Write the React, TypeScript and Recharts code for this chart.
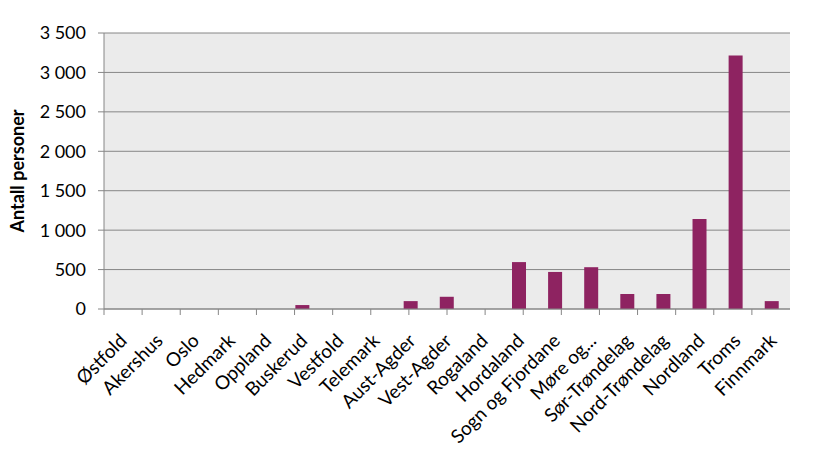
import React from 'react';
import { BarChart, Bar, XAxis, YAxis, CartesianGrid } from 'recharts';

// Fylker, in the order they appear on the x axis
const regions = [
  'Østfold', 'Akershus', 'Oslo', 'Hedmark', 'Oppland', 'Buskerud', 'Vestfold',
  'Telemark', 'Aust-Agder', 'Vest-Agder', 'Rogaland', 'Hordaland',
  'Sogn og Fjordane', 'Møre og...', 'Sør-Trøndelag', 'Nord-Trøndelag',
  'Nordland', 'Troms', 'Finnmark',
];

const persons = [0, 0, 0, 0, 0, 50, 0, 0, 100, 155, 0, 595, 470, 530, 190, 190, 1140, 3215, 100];

const yTicks = [0, 500, 1000, 1500, 2000, 2500, 3000, 3500];

const data = regions.map((name, i) => ({ name, value: persons[i] }));
// category boundaries for the tick marks between bars
const edgeTicks = [...regions.map((_, i) => i), regions.length];

const FONT = 'Lato, "Open Sans", sans-serif';
const AXIS = '#868686';

const fmt = (v: number) => (v >= 1000 ? `${Math.floor(v / 1000)} ${String(v % 1000).padStart(3, '0')}` : `${v}`);

const RegionTick = ({ x, y, payload }: any) => (
  <g transform={`translate(${x + 6},${y + 24})`}>
    <text textAnchor="end" transform="rotate(-45)" fontSize={19} fontFamily={FONT} fill="#000">
      {payload.value}
    </text>
  </g>
);

const NoLabel = () => <g />;

export default function App() {
  return (
    <div style={{ position: 'absolute', left: 0, top: 0, width: 813, height: 449, background: '#fff' }}>
      <BarChart
        width={813}
        height={449}
        data={data}
        margin={{ top: 33, right: 23, left: 0, bottom: 0 }}
        barCategoryGap="30%"
      >
        <CartesianGrid xAxisId="b" vertical={false} stroke={AXIS} fill="#EBEBEB" />
        {/* axis "a" only draws the tick marks between categories */}
        <XAxis
          xAxisId="a"
          type="number"
          domain={[0, regions.length]}
          ticks={edgeTicks}
          tick={<NoLabel />}
          tickSize={6}
          height={1}
          axisLine={{ stroke: AXIS }}
          tickLine={{ stroke: AXIS }}
        />
        <XAxis
          xAxisId="b"
          dataKey="name"
          interval={0}
          height={139}
          tickLine={false}
          axisLine={false}
          tick={<RegionTick />}
        />
        <YAxis
          width={104}
          domain={[0, 3500]}
          ticks={yTicks}
          tickFormatter={fmt}
          tickSize={6}
          tickMargin={12}
          axisLine={{ stroke: AXIS }}
          tickLine={{ stroke: AXIS }}
          tick={{ fontSize: 18, fontFamily: FONT, fill: '#000' }}
          label={{
            value: 'Antall personer',
            angle: -90,
            position: 'insideLeft',
            offset: 0,
            dx: 18,
            style: { textAnchor: 'middle', fontSize: 18, fontWeight: 'bold', fontFamily: FONT, fill: '#000' },
          }}
        />
        <Bar xAxisId="b" dataKey="value" fill="#8E2361" isAnimationActive={false} />
      </BarChart>
    </div>
  );
}
